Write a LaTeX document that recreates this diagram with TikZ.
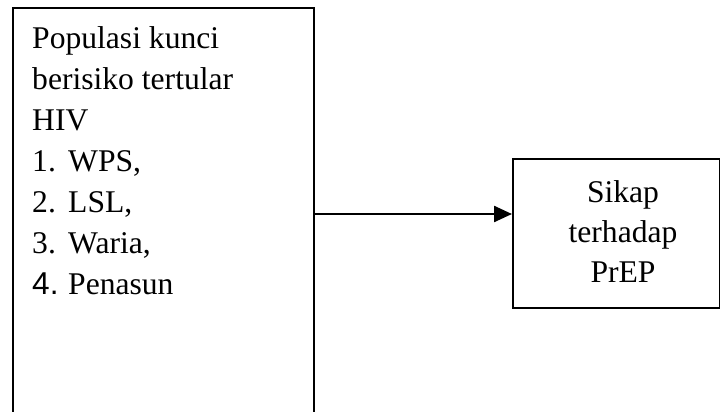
\documentclass[tikz,border=0pt]{standalone}
\usepackage{fontspec}
\setmainfont{Liberation Serif}
\newfontfamily\arialfont{Liberation Sans}
\usetikzlibrary{arrows.meta}
\begin{document}
\begin{tikzpicture}[x=1pt,y=1pt,
  boxstyle/.style={draw=black, line width=2pt, inner sep=0pt, rectangle},
  txtstyle/.style={inner sep=0pt, font=\fontsize{31.6}{41}\selectfont},
  arrowstyle/.style={line width=2.4pt, -{Triangle[length=18pt,width=16pt]}}]
\useasboundingbox (0,0) rectangle (720,-412);
\clip (0,0) rectangle (720,-412);
% left box (bottom edge lies below the picture)
\node[boxstyle, anchor=north west, minimum width=301pt, minimum height=430pt] (L) at (12,-7) {};
\node[txtstyle, anchor=base west] (Ltext) at (32,-48.5) {\parbox[t]{270pt}{\raggedright\fontsize{31.6}{41}\selectfont
Populasi kunci\\
berisiko tertular\\
HIV\\
\makebox[36pt][l]{1.}WPS,\\
\makebox[36pt][l]{2.}LSL,\\
\makebox[36pt][l]{3.}Waria,\\
\makebox[36pt][l]{\arialfont 4.}Penasun}};
% right box
\node[boxstyle, anchor=north west, minimum width=207pt, minimum height=148.5pt] (R) at (512,-158) {};
\node[txtstyle, anchor=base] (Rtext) at (623,-202) {\parbox[t]{180pt}{\centering\fontsize{31.6}{40}\selectfont
Sikap\\
terhadap\\
PrEP}};
% connector
\coordinate (a) at (313,-214);
\draw[arrowstyle] (L.east |- a) -- (R.west |- a);
\end{tikzpicture}
\end{document}
